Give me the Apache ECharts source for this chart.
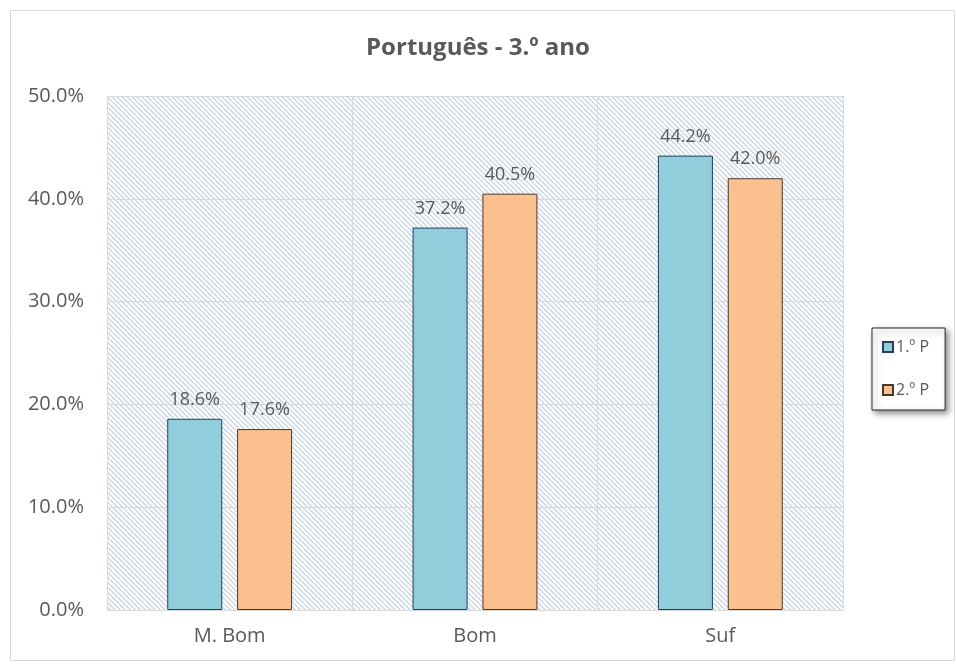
<!DOCTYPE html>
<html>
<head>
<meta charset="utf-8">
<script src="https://cdn.jsdelivr.net/npm/echarts@6/dist/echarts.min.js"></script>
<style>
  html, body { margin: 0; padding: 0; background: #fff; }
  #chart { width: 956px; height: 664px; }
</style>
</head>
<body>
<div id="chart"></div>
<script>
var categories = ['M. Bom', 'Bom', 'Suf'];
var seriesNames = ['1.º P', '2.º P'];
var p1Values = [18.6, 37.2, 44.2];
var p2Values = [17.6, 40.5, 42.0];

// diagonal hatch for the plot background
function makeHatch() {
  var n = 5;
  var c = document.createElement('canvas');
  c.width = n; c.height = n;
  var ctx = c.getContext('2d');
  var img = ctx.createImageData(n, n);
  for (var y = 0; y < n; y++) {
    for (var x = 0; x < n; x++) {
      var d = ((x - y) % n + n) % n;
      var col = d === 0 ? [200, 210, 220] : d === 1 ? [222, 229, 235] : [250, 251, 252];
      var i = (y * n + x) * 4;
      img.data[i] = col[0]; img.data[i + 1] = col[1]; img.data[i + 2] = col[2]; img.data[i + 3] = 255;
    }
  }
  ctx.putImageData(img, 0, 0);
  return c;
}

var chart = echarts.init(document.getElementById('chart'));
var font = 'Open Sans';
var labelStyle = {
  show: true, position: 'top', distance: 10,
  color: '#595959', fontSize: 18, fontFamily: font,
  formatter: function (p) { return p.value.toFixed(1) + '%'; }
};

chart.setOption({
  animation: false,
  backgroundColor: '#fff',
  graphic: [{
    type: 'rect', left: 8, top: 8,
    shape: { width: 944, height: 650 },
    style: { fill: 'none', stroke: '#d9d9d9', lineWidth: 1 }
  }],
  title: {
    text: 'Português - 3.º ano',
    left: 'center', top: 31,
    textStyle: { color: '#595959', fontSize: 24, fontWeight: 'bold', fontFamily: font }
  },
  legend: {
    orient: 'vertical',
    left: 872, top: 328,
    icon: 'rect',
    itemWidth: 10, itemHeight: 10,
    itemGap: 27,
    padding: [11, 16, 12, 10],
    borderColor: '#262626', borderWidth: 1,
    backgroundColor: '#fff',
    shadowColor: 'rgba(0,0,0,0.45)', shadowBlur: 6, shadowOffsetX: 3, shadowOffsetY: 3,
    textStyle: { color: '#595959', fontSize: 16, fontFamily: font, padding: [0, 0, 0, -2] },
    data: seriesNames
  },
  grid: {
    left: 107, right: 113, top: 96, bottom: 54,
    show: true,
    borderWidth: 0,
    backgroundColor: { image: makeHatch(), repeat: 'repeat' }
  },
  xAxis: {
    type: 'category',
    data: categories,
    axisLine: { lineStyle: { color: '#d9d9d9' } },
    axisTick: { show: false },
    splitLine: { show: true, lineStyle: { color: '#d9d9d9' } },
    axisLabel: { color: '#595959', fontSize: 20, fontFamily: font, margin: 16 }
  },
  yAxis: {
    type: 'value',
    min: 0, max: 50, interval: 10,
    axisLine: { show: false },
    axisTick: { show: false },
    splitLine: { show: true, lineStyle: { color: '#d9d9d9' } },
    axisLabel: {
      color: '#595959', fontSize: 20, fontFamily: font, margin: 23,
      formatter: function (v) { return v.toFixed(1) + '%'; }
    }
  },
  series: [{
    name: seriesNames[0], type: 'bar', data: p1Values,
    barWidth: 55, barGap: '27%',
    itemStyle: { color: '#92cddc', borderColor: '#243f60', borderWidth: 1 },
    label: labelStyle
  }, {
    name: seriesNames[1], type: 'bar', data: p2Values,
    barWidth: 55,
    itemStyle: { color: '#fac090', borderColor: '#4a3a2a', borderWidth: 1 },
    label: labelStyle
  }]
});
</script>
</body>
</html>
